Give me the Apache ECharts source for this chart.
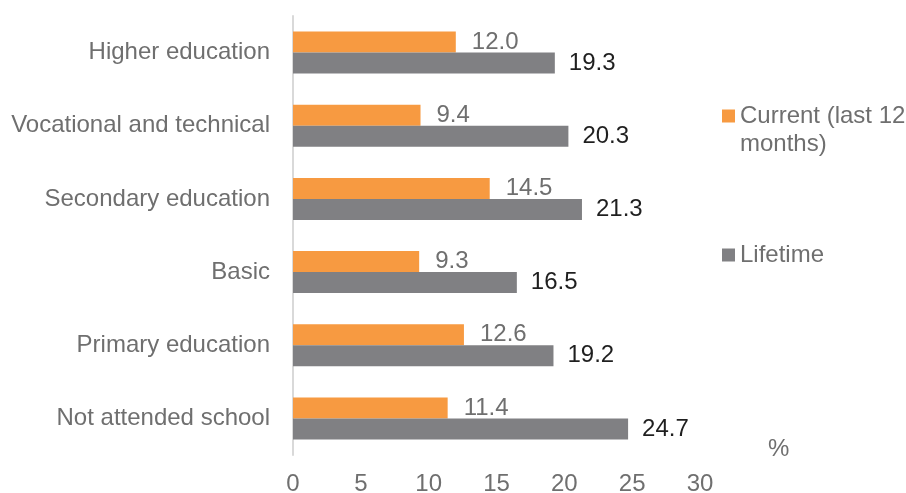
<!DOCTYPE html>
<html>
<head>
<meta charset="utf-8">
<script src="https://cdn.jsdelivr.net/npm/echarts@6/dist/echarts.min.js"></script>
<style>
html,body{margin:0;padding:0;background:#fff;}
#chart{width:906px;height:493px;}
</style>
</head>
<body>
<div id="chart"></div>
<script>
const categories = ['Higher education', 'Vocational and technical', 'Secondary education', 'Basic', 'Primary education', 'Not attended school'];
const currentValues = [12.0, 9.4, 14.5, 9.3, 12.6, 11.4];
const lifetimeValues = [19.3, 20.3, 21.3, 16.5, 19.2, 24.7];
const xTicks = [0, 5, 10, 15, 20, 25, 30];
const seriesNames = ['Current (last 12 months)', 'Lifetime'];

const FONT = '"Liberation Sans", Arial, sans-serif';
const chart = echarts.init(document.getElementById('chart'), null, {renderer: 'canvas'});
chart.setOption({
  animation: false,
  backgroundColor: '#ffffff',
  textStyle: {fontFamily: FONT},
  grid: {left: 293, right: 206, top: 16, bottom: 38, containLabel: false, outerBoundsMode: 'none'},
  legend: {
    orient: 'vertical',
    left: 717,
    top: 69,
    itemWidth: 13,
    itemHeight: 13,
    itemGap: 83,
    icon: 'rect',
    textStyle: {fontSize: 24, color: '#6f6f6f', fontFamily: FONT, lineHeight: 28},
    formatter: function (n) { return n === seriesNames[0] ? ' \nCurrent (last 12\nmonths)' : n; },
    data: seriesNames
  },
  xAxis: {
    type: 'value',
    min: xTicks[0],
    max: xTicks[xTicks.length - 1],
    interval: 5,
    axisLine: {show: false},
    axisTick: {show: false},
    splitLine: {show: false},
    axisLabel: {fontSize: 24, color: '#6f6f6f', margin: 17, fontFamily: FONT}
  },
  yAxis: {
    type: 'category',
    inverse: true,
    data: categories,
    axisLine: {show: true, lineStyle: {color: '#d9d9d9', width: 2}},
    axisTick: {show: false},
    axisLabel: {fontSize: 24, color: '#6f6f6f', margin: 23, fontFamily: FONT}
  },
  graphic: [{
    type: 'text', left: 768, top: 437,
    style: {text: '%', fontSize: 24, fill: '#6f6f6f', fontFamily: FONT}
  }],
  series: [
    {
      name: seriesNames[0], type: 'bar', data: currentValues,
      barWidth: 21, barGap: '0%',
      itemStyle: {color: '#f79a41'},
      label: {show: true, position: 'right', distance: 16, fontSize: 24, color: '#6f6f6f', fontFamily: FONT,
        formatter: p => p.value.toFixed(1)}
    },
    {
      name: seriesNames[1], type: 'bar', data: lifetimeValues,
      barWidth: 21, barGap: '0%',
      itemStyle: {color: '#808083'},
      label: {show: true, position: 'right', distance: 14, fontSize: 24, color: '#1f1f1f', fontFamily: FONT,
        formatter: p => p.value.toFixed(1)}
    }
  ]
});
</script>
</body>
</html>
